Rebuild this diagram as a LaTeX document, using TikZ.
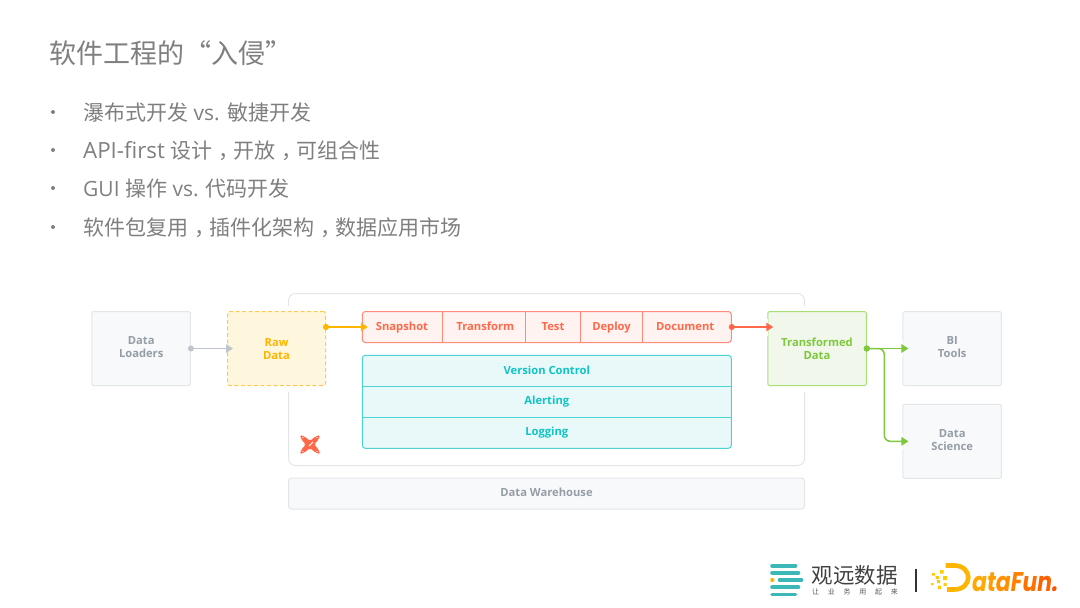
\documentclass[tikz,border=0pt]{standalone}
\usepackage{fontspec}
\setmainfont{Open Sans}
\setsansfont{Open Sans}
\newfontfamily\cjk{Noto Sans CJK SC}
\newfontfamily\cjkwide[LetterSpace=125]{Noto Sans CJK SC}
\newfontfamily\logofont{Poppins}
\newcommand\zhcomma{\hspace{.3em}，\hspace{-.3em}}
\usetikzlibrary{arrows.meta}

\definecolor{slide}{HTML}{7F7F7F}
\definecolor{graytext}{HTML}{959EA6}
\definecolor{grayfill}{HTML}{F8F9FB}
\definecolor{grayline}{HTML}{E3E6E9}
\definecolor{grayconn}{HTML}{BEC5CC}
\definecolor{rawfill}{HTML}{FFF7DD}
\definecolor{rawline}{HTML}{FFC94F}
\definecolor{rawtext}{HTML}{FFB500}
\definecolor{dbtfill}{HTML}{FFF3F1}
\definecolor{dbtline}{HTML}{FF8B78}
\definecolor{dbttext}{HTML}{FF694A}
\definecolor{opsfill}{HTML}{E9F9F9}
\definecolor{opsline}{HTML}{4DD3D3}
\definecolor{opstext}{HTML}{10C3C5}
\definecolor{datafill}{HTML}{F1F8EB}
\definecolor{dataline}{HTML}{A8DE78}
\definecolor{datatext}{HTML}{7DC83C}
\definecolor{guanyuan}{HTML}{3CB8B8}

\tikzset{
  boxfont/.style={font=\sffamily\bfseries\fontsize{11.2}{13}\selectfont},
  box/.style={draw, line width=1pt, rounded corners=1.5pt, align=center, inner sep=0pt, boxfont},
  graybox/.style={box, draw=grayline, fill=grayfill, text=graytext},
  graylabel/.style={boxfont, text=graytext, align=center, inner sep=0pt},
  cell/.style={align=center, inner sep=0pt, minimum height=31pt, text height=8.5pt, text depth=1.5pt, text=dbttext, boxfont},
  band/.style={cell, text=opstext, minimum width=369pt},
  slidetext/.style={anchor=west, inner sep=0pt, text height=19pt, text depth=3pt, text=slide, font=\fontsize{21}{24}\selectfont},
  dotto/.style={line width=1.5pt, shorten <=-3pt, {Circle[length=6pt]}-{Triangle[length=7pt,width=8.5pt]}},
  arrowgap/.style={white, line width=17pt},
}

\begin{document}
\begin{tikzpicture}[x=1pt,y=-1pt]
  \useasboundingbox (0,0) rectangle (1080,608);

  % Slide heading and bullets
  \node[slidetext,text height=24pt,text depth=3.4pt,font=\fontsize{27}{30}\selectfont] (title) at (49.5,53) {\cjk 软件工程的“入侵”};
  \node[slidetext] (itemA) at (83,112) {{\cjk 瀑布式开发} vs. {\cjk 敏捷开发}};
  \node[slidetext] (itemB) at (83,150) {{\fontsize{22.3}{24}\selectfont API-first} {\cjk 设计\zhcomma 开放\zhcomma 可组合性}};
  \node[slidetext] (itemC) at (83,188) {GUI {\cjk 操作} vs. {\cjk 代码开发}};
  \node[slidetext] (itemD) at (83,227) {\cjk 软件包复用\zhcomma 插件化架构\zhcomma 数据应用市场};
  \fill[slide] (53,112) circle (2) (53,150) circle (2) (53,188) circle (2) (53,227) circle (2);

  % Warehouse frame; the two data boxes cut through its sides
  \node[graybox,fill=none,minimum width=516pt,minimum height=172pt,rounded corners=7pt] (frame) at (546.5,379.5) {};
  \node[graybox,text height=8pt,text depth=2.5pt,minimum width=516pt,minimum height=31pt,rounded corners=3pt] (warehouse) at (546.5,493.5) {Data Warehouse};
  \fill[white] (220,305.5) rectangle (333,391.5);
  \fill[white] (760,305.5) rectangle (874,391.5);

  \node[graybox,minimum width=98.5pt,minimum height=74pt] (loaders) at (141.2,348.5) {};
  \node[box,draw=rawline,dash pattern=on 4pt off 2.5pt,fill=rawfill,minimum width=98pt,minimum height=74pt] (raw) at (276.5,348.5) {};
  \node[box,draw=dataline,fill=datafill,text=datatext,minimum width=98.5pt,minimum height=74pt] (transformed) at (817,348.5) {Transformed\\Data};
  \node[graybox,minimum width=98.5pt,minimum height=74pt] (bi) at (952.2,348.5) {};
  \node[graybox,minimum width=98.5pt,minimum height=74pt] (science) at (952.2,441.3) {};
  \node[graylabel] (loaderstext) at (141.2,347.3) {Data\\Loaders};
  \node[graylabel,text=rawtext] (rawlabel) at (276.5,349.3) {Raw\\Data};
  \node[graylabel] (bitext) at (952.2,347.3) {BI\\Tools};
  \node[graylabel] (sciencetext) at (952.2,440) {Data\\Science};

  % dbt steps
  \node[box,draw=dbtline,fill=dbtfill,minimum width=369pt,minimum height=31pt,rounded corners=3pt] (pipeline) at (546.8,327) {};
  \node[cell,minimum width=80.6pt] (snapshot) at (402,327) {Snapshot};
  \node[cell,minimum width=80pt] (transform) at (485.3,327) {Transform};
  \node[cell,minimum width=54.6pt] (test) at (553,327) {Test};
  \node[cell,minimum width=61pt] (deploy) at (611.5,327) {Deploy};
  \node[cell,minimum width=80pt] (document) at (685.2,327) {Document};
  \draw[dbtline] (snapshot.north east) -- (snapshot.south east);
  \draw[dbtline] (transform.north east) -- (transform.south east);
  \draw[dbtline] (test.north east) -- (test.south east);
  \draw[dbtline] (deploy.north east) -- (deploy.south east);

  % Version control, alerting, logging
  \node[box,draw=opsline,fill=opsfill,minimum width=369pt,minimum height=93pt,rounded corners=3pt] (ops) at (546.8,401.8) {};
  \node[band] (version) at (546.8,370.8) {Version Control};
  \node[band] (alerting) at (546.8,401.3) {Alerting};
  \node[band] (logging) at (546.8,432.3) {Logging};
  \draw[opsline] (version.south west) -- (version.south east);
  \draw[opsline] (ops.west |- 0,417.3) -- (ops.east |- 0,417.3);

  % Connectors, with a short break in the border they enter
  \draw[arrowgap] ([xshift=-1pt]transformed.west |- document) -- ([xshift=1pt]transformed.west |- document);
  \draw[arrowgap] ([xshift=-1pt]bi.west) -- ([xshift=1pt]bi.west);
  \draw[arrowgap] ([xshift=-1pt]science.west) -- ([xshift=1pt]science.west);
  \draw[dotto,grayconn] (loaders.east) -- ([xshift=6pt]raw.west);
  \draw[dotto,rawtext] (raw.east |- snapshot) -- ([xshift=6pt]pipeline.west);
  \draw[dotto,dbttext] (pipeline.east) -- ([xshift=6pt]transformed.west |- document);
  \draw[dotto,datatext] (transformed.east) -- ([xshift=6pt]bi.west);
  \draw[dotto,datatext,rounded corners=6pt] (transformed.east) -- (884.3,348.5) -- (884.3,441.3) -- ([xshift=6pt]science.west);

  % dbt mark
  \fill[dbttext,rounded corners=1.5pt] (301,435.5) .. controls (305,436) and (307,439) .. (310,440.5)
    .. controls (313,439) and (315,436) .. (319,435.5) -- (319.5,436)
    .. controls (319,440) and (316,442) .. (314.5,444.5) .. controls (316,447) and (319,449) .. (319.5,453) -- (319,453.5)
    .. controls (315,453) and (313,450) .. (310,448.5) .. controls (307,450) and (305,453) .. (301,453.5) -- (300.5,453)
    .. controls (301,449) and (304,447) .. (305.5,444.5) .. controls (304,442) and (301,440) .. (300.5,436) -- cycle;
  \fill[white] (303,437.5) circle (.7) (317,437.5) circle (.7) (303,451.5) circle (.7) (317,451.5) circle (.7);
  \draw[white,line width=.8pt] (309,446) -- (313,442);

  % Guanyuan logo
  \tikzset{logobar/.style={guanyuan,line width=3.6pt,line cap=round}}
  \draw[logobar] (772,565.7) -- (795.5,565.7);
  \draw[logobar] (772,572.8) -- (798.5,572.8);
  \draw[logobar] (779.5,580) -- (801.5,580);
  \draw[logobar] (772,587.2) -- (798.5,587.2);
  \draw[logobar] (772,594.3) -- (795.5,594.3);
  \fill[rawtext] (772.3,580) circle (2.1);
  \node[anchor=west,inner sep=0pt,text=black!75,font=\fontsize{21.5}{22}\selectfont] (guanyuan) at (811.5,575) {\cjk 观远数据};
  \node[anchor=west,inner sep=0pt,text=black!65,font=\fontsize{7}{8}\selectfont] (slogan) at (812,591.7) {\cjkwide 让业务用起来};
  \draw[black!80,line width=1.4pt] (916,568.5) -- (916,592);

  % DataFun logo
  \fill[rawtext!70!yellow] (940,570) rectangle +(3.5,3.5) (932,573) rectangle +(3,2.5) (935.5,576) rectangle +(3.5,3)
    (943,576) rectangle +(3.8,4) (937,580) rectangle +(3.2,3) (931,583) rectangle +(2.5,2.2) (938,585.5) rectangle +(3.2,3.5) (943.5,583) rectangle +(3,3);
  \draw[rawtext,line width=4.6pt] (945.5,565.5) -- (954,565.5) .. controls (973,565.5) and (973,589.5) .. (954,589.5) -- (947,589.5);
  \node[anchor=base west,inner sep=0pt,font=\logofont\bfseries\itshape\fontsize{27}{28}\selectfont] (datafun) at (972,591)
    {\scalebox{.81}[1]{\textcolor[HTML]{FFA800}{a}\textcolor[HTML]{FF9C00}{t}\textcolor[HTML]{FF9000}{a}\textcolor[HTML]{FF8000}{F}\textcolor[HTML]{FF7000}{u}\textcolor[HTML]{FF6000}{n}\textcolor[HTML]{FF5000}{.}}};
\end{tikzpicture}
\end{document}
